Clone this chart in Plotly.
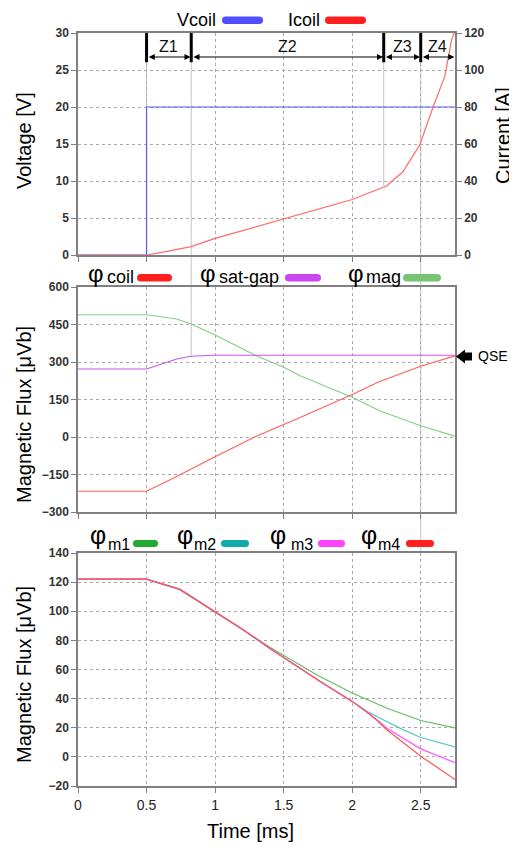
import plotly.graph_objects as go

# ---------------- data ----------------
# Top panel
t_v = [0, 0.5, 0.5, 2.75]
vcoil = [0, 0, 20, 20]
t_i = [0, 0.5, 0.65, 0.825, 1.0, 1.5, 2.0, 2.25, 2.37, 2.493, 2.59, 2.675, 2.724, 2.75]
icoil = [0, 0, 2, 4.5, 9, 19.5, 30, 37.3, 45, 59.5, 80, 96.4, 116, 121]

# Middle panel
t_mid = [0, 0.5, 0.72, 0.825, 0.985, 1.3, 1.5, 1.62, 2.0, 2.2, 2.5, 2.75]
phi_coil = [-217, -217, -158, -128, -83, 3, 49, 78, 170, 222, 283, 325]
phi_satgap = [272, 272, 312, 323, 327, 327, 327, 327, 327, 327, 327, 327]
phi_mag = [489, 489, 472, 452, 412, 325, 279, 245, 159, 105, 45, 3]

# Bottom panel
t_m1 = [0, 0.5, 0.743, 0.96, 1.205, 1.4, 1.74, 2.0, 2.25, 2.5, 2.75]
phi_m1 = [122, 122, 115, 102, 87.3, 75.3, 56.4, 43.9, 33.6, 25.0, 19.9]
t_m2 = [0, 0.5, 0.743, 0.96, 1.205, 1.4, 1.764, 2.0, 2.128, 2.19, 2.25, 2.37, 2.5, 2.75]
phi_m2 = [122, 122, 115, 102, 87.3, 74.5, 51.9, 38.1, 30.2, 27.2, 24.4, 18.7, 13.3, 6.8]
t_m3 = [0, 0.5, 0.743, 0.96, 1.205, 1.4, 1.764, 2.0, 2.128, 2.19, 2.25, 2.5, 2.75]
phi_m3 = [122, 122, 115, 102, 87.3, 74.5, 51.9, 38.1, 29.5, 24.8, 19.9, 5.5, -4.0]
t_m4 = [0, 0.5, 0.743, 0.96, 1.205, 1.4, 1.764, 2.0, 2.128, 2.19, 2.25, 2.5, 2.75]
phi_m4 = [122, 122, 115, 102, 87.3, 74.5, 51.9, 38.1, 29.3, 24.3, 18.8, 0.5, -15.5]

x_ticks = [0, 0.5, 1, 1.5, 2, 2.5]
x_ticktext = ["0", "0.5", "1", "1.5", "2", "2.5"]

zone_bounds = [0.5, 0.826, 2.23, 2.5, 2.75]
zone_labels = ["Z1", "Z2", "Z3", "Z4"]

# ---------------- layout helpers ----------------
OFF = 8  # page body margin
W, H = 517 - OFF, 849 - OFF
ML, MR, MT, MB = 78 - OFF, 62, 33 - OFF, 63
PW, PH = W - ML - MR, H - MT - MB


def px(x):
    return (x - OFF - ML) / PW


def py(y):
    return (H - MB - (y - OFF)) / PH


FONT = "Liberation Sans, Arial, sans-serif"
GRID = "#a8a8a8"
FRAME = "#808080"

fig = go.Figure()

# top
fig.add_trace(go.Scatter(x=t_v, y=vcoil, mode="lines", line=dict(color="#5a5aff", width=1.2),
                         xaxis="x", yaxis="y", showlegend=False))
fig.add_trace(go.Scatter(x=t_i, y=icoil, mode="lines", line=dict(color="#ff6a6a", width=1.2),
                         xaxis="x", yaxis="y2", showlegend=False))
# middle
fig.add_trace(go.Scatter(x=t_mid, y=phi_mag, mode="lines", line=dict(color="#88cc88", width=1.2),
                         xaxis="x2", yaxis="y3", showlegend=False))
fig.add_trace(go.Scatter(x=t_mid, y=phi_satgap, mode="lines", line=dict(color="#cc55ee", width=1.2),
                         xaxis="x2", yaxis="y3", showlegend=False))
fig.add_trace(go.Scatter(x=t_mid, y=phi_coil, mode="lines", line=dict(color="#ff6060", width=1.2),
                         xaxis="x2", yaxis="y3", showlegend=False))
# bottom
fig.add_trace(go.Scatter(x=t_m1, y=phi_m1, mode="lines", line=dict(color="#66bb66", width=1.2),
                         xaxis="x3", yaxis="y4", showlegend=False))
fig.add_trace(go.Scatter(x=t_m2, y=phi_m2, mode="lines", line=dict(color="#55c8c8", width=1.2),
                         xaxis="x3", yaxis="y4", showlegend=False))
fig.add_trace(go.Scatter(x=t_m3, y=phi_m3, mode="lines", line=dict(color="#ff55ff", width=1.2),
                         xaxis="x3", yaxis="y4", showlegend=False))
fig.add_trace(go.Scatter(x=t_m4, y=phi_m4, mode="lines", line=dict(color="#ff5555", width=1.2),
                         xaxis="x3", yaxis="y4", showlegend=False))

dom_top = [py(255), py(33)]
dom_mid = [py(512), py(287)]
dom_bot = [py(786), py(553)]

xcommon = dict(range=[0, 2.75], tickvals=x_ticks, ticktext=x_ticktext, showgrid=True,
               gridcolor=GRID, griddash="dot", gridwidth=1, zeroline=False, showline=True,
               linecolor=FRAME, linewidth=1.5, mirror=True, ticks="outside", ticklen=5,
               tickcolor=FRAME, domain=[0, 1])
ycommon = dict(showgrid=True, gridcolor=GRID, griddash="dot", gridwidth=1, zeroline=False,
               showline=True, linecolor=FRAME, linewidth=1.5, mirror=True, ticks="outside",
               ticklen=5, tickcolor=FRAME,
               tickfont=dict(family=FONT, size=12, color="#333333", weight="bold"))

fig.update_layout(
    width=W, height=H, margin=dict(l=ML, r=MR, t=MT, b=MB, autoexpand=False),
    paper_bgcolor="white", plot_bgcolor="white", showlegend=False,
    font=dict(family=FONT, color="#000000"),
    xaxis=dict(xcommon, anchor="y", showticklabels=False),
    xaxis2=dict(xcommon, anchor="y3", showticklabels=False),
    xaxis3=dict(xcommon, anchor="y4", showticklabels=True,
                tickfont=dict(family=FONT, size=14, color="#222222")),
    yaxis=dict(ycommon, domain=dom_top, range=[0, 30], dtick=5, anchor="x"),
    yaxis2=dict(ycommon, range=[0, 120], dtick=20, overlaying="y", side="right", anchor="x",
                showgrid=False, mirror=False),
    yaxis3=dict(ycommon, domain=dom_mid, range=[-300, 600], dtick=150, anchor="x2"),
    yaxis4=dict(ycommon, domain=dom_bot, range=[-20, 140], dtick=20, anchor="x3"),
)

shapes = []
annotations = []

# thin grey zone guide lines (paper coordinates)
for t, ytop, ybot in [(0.5, 62, 255), (0.826, 62, 357), (2.23, 62, 186), (2.5, 62, 553)]:
    shapes.append(dict(type="line", xref="paper", yref="paper", x0=t / 2.75, x1=t / 2.75,
                       y0=py(ytop), y1=py(ybot), line=dict(color="#c4c4c4", width=1), layer="below"))

# zone markers
for t in zone_bounds[:4]:
    shapes.append(dict(type="line", xref="x", yref="y", x0=t, x1=t, y0=30, y1=26.05,
                       line=dict(color="black", width=3)))
for i, lab in enumerate(zone_labels):
    a, b = zone_bounds[i], zone_bounds[i + 1]
    annotations.append(dict(x=b - 0.005, y=26.75, ax=a + 0.005, ay=26.75, xref="x", yref="y",
                            axref="x", ayref="y", text="", showarrow=True, arrowhead=2,
                            startarrowhead=2, arrowside="end+start", arrowsize=1.1,
                            startarrowsize=1.1, arrowwidth=1.1, arrowcolor="black"))
    annotations.append(dict(x=(a + b) / 2, y=28.2, xref="x", yref="y", text=lab, showarrow=False,
                            font=dict(family=FONT, size=16, color="#111111")))


def swatch(x0, x1, y0, y1, color):
    r = (y1 - y0) / 2
    m = (y0 + y1) / 2
    P = lambda x, y: f"{px(x):.5f},{py(y):.5f}"
    path = (f"M {P(x0 + r, y0)} L {P(x1 - r, y0)} Q {P(x1, y0)} {P(x1, m)} "
            f"Q {P(x1, y1)} {P(x1 - r, y1)} L {P(x0 + r, y1)} Q {P(x0, y1)} {P(x0, m)} "
            f"Q {P(x0, y0)} {P(x0 + r, y0)} Z")
    shapes.append(dict(type="path", xref="paper", yref="paper", path=path,
                       fillcolor=color, line=dict(width=0)))


def text(x, y, s, size, anchor="left", angle=0, color="#000000"):
    annotations.append(dict(x=px(x), y=py(y), xref="paper", yref="paper", text=s,
                            showarrow=False, xanchor=anchor, yanchor="middle", textangle=angle,
                            borderpad=0, font=dict(family=FONT, size=size, color=color)))


# top legend
text(176, 20, "Vcoil", 18)
swatch(222, 263, 16.5, 24, "#4f4fff")
text(287, 20, "Icoil", 18)
swatch(325, 366, 16.5, 24, "#ff1f1f")

# middle legend
for xphi, xt, lab, s0, s1, col in [(87, 106, "coil", 137, 172, "#ff1f1f"),
                                    (199, 218, "sat-gap", 285, 321, "#cc44ee"),
                                    (347, 365, "mag", 403, 441, "#77c477")]:
    text(xphi, 273, "φ", 24)
    text(xt, 277, lab, 18)
    swatch(s0, s1, 274, 281.5, col)

# bottom legend
for xphi, xt, lab, s0, s1, col in [(89, 107, "m1", 133, 158, "#22aa33"),
                                    (176, 193, "m2", 221, 249, "#11aaaa"),
                                    (269, 290, "m3", 318, 345, "#ff44ff"),
                                    (360, 377, "m4", 406, 434, "#ff2020")]:
    text(xphi, 535, "φ", 25)
    text(xt, 544, lab, 16)
    swatch(s0, s1, 540, 547, col)

# QSE arrow
yq = 356.5
pts = [(456, yq), (465, yq - 7), (465, yq - 4), (472, yq - 4), (472, yq + 4), (465, yq + 4),
       (465, yq + 7)]
path = "M " + " L ".join(f"{px(x):.5f},{py(y):.5f}" for x, y in pts) + " Z"
shapes.append(dict(type="path", xref="paper", yref="paper", path=path, fillcolor="black",
                   line=dict(width=0)))
text(477, yq, "QSE", 14)

# axis titles
text(24, 140, "Voltage [V]", 20, anchor="center", angle=-90)
text(503, 136, "Current [A]", 20, anchor="center", angle=-90)
text(24, 415, "Magnetic Flux [μVb]", 20, anchor="center", angle=-90)
text(24, 675, "Magnetic Flux [μVb]", 20, anchor="center", angle=-90)
text(250, 831, "Time [ms]", 20, anchor="center")

fig.update_layout(shapes=shapes, annotations=annotations)
fig.write_html("out.html")
